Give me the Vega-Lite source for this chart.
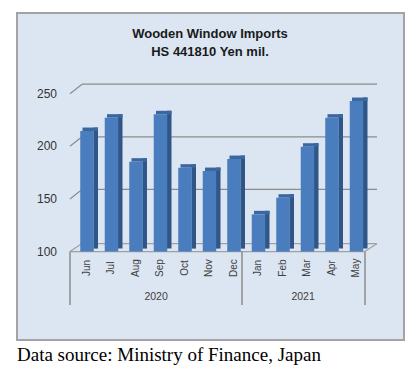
{
  "$schema": "https://vega.github.io/schema/vega-lite/v6.json",
  "width": 387,
  "height": 327,
  "autosize": {"type": "none"},
  "padding": {"left": 17, "top": 13, "right": 16, "bottom": 33},
  "background": "white",
  "config": {
    "view": {"fill": "#dce6f2", "stroke": "#a3a3a3", "strokeWidth": 2},
    "axis": {"disable": true}
  },
  "data": {
    "values": [
      {"m": "Jun", "i": 0, "v": 214.5},
      {"m": "Jul", "i": 1, "v": 227.2},
      {"m": "Aug", "i": 2, "v": 185.4},
      {"m": "Sep", "i": 3, "v": 230.4},
      {"m": "Oct", "i": 4, "v": 179.7},
      {"m": "Nov", "i": 5, "v": 176.5},
      {"m": "Dec", "i": 6, "v": 187.9},
      {"m": "Jan", "i": 7, "v": 135.4},
      {"m": "Feb", "i": 8, "v": 151.2},
      {"m": "Mar", "i": 9, "v": 199.6},
      {"m": "Apr", "i": 10, "v": 227.2},
      {"m": "May", "i": 11, "v": 243}
    ]
  },
  "layer": [
    {
      "data": {"values": [{"g": 150}, {"g": 200}, {"g": 250}]},
      "mark": {"type": "rule", "color": "#8c8c8c", "strokeWidth": 1.2, "yOffset": -9.5},
      "encoding": {
        "x": {"datum": -0.204, "type": "quantitative", "scale": {"domain": [-2.857, 12.939], "nice": false, "zero": false}, "axis": null},
        "x2": {"datum": 11.837},
        "y": {"field": "g", "type": "quantitative", "scale": {"domain": [16.05, 326.6], "nice": false, "zero": false}, "axis": null}
      }
    },
    {
      "data": {"values": [{"g": 150}, {"g": 200}, {"g": 250}]},
      "mark": {"type": "rule", "color": "#8c8c8c", "strokeWidth": 1.2, "y2Offset": -9.5},
      "encoding": {
        "x": {"datum": -0.694, "type": "quantitative"},
        "x2": {"datum": -0.204},
        "y": {"field": "g", "type": "quantitative"},
        "y2": {"field": "g"}
      }
    },
    {
      "data": {"values": [{}]},
      "mark": {"type": "rule", "color": "#a0a0a0", "strokeWidth": 1.2, "yOffset": -8},
      "encoding": {
        "x": {"datum": -0.204, "type": "quantitative"},
        "x2": {"datum": 11.837},
        "y": {"datum": 100, "type": "quantitative"}
      }
    },
    {
      "data": {"values": [{}]},
      "mark": {"type": "rule", "color": "#a0a0a0", "strokeWidth": 1.2},
      "encoding": {
        "x": {"datum": -0.694, "type": "quantitative"},
        "x2": {"datum": 11.347},
        "y": {"datum": 100, "type": "quantitative"}
      }
    },
    {
      "data": {"values": [{}]},
      "mark": {"type": "rule", "color": "#a0a0a0", "strokeWidth": 1.2, "y2Offset": -8},
      "encoding": {
        "x": {"datum": 11.347, "type": "quantitative"},
        "x2": {"datum": 11.837},
        "y": {"datum": 100, "type": "quantitative"},
        "y2": {"datum": 100}
      }
    },
    {
      "data": {"values": [{}]},
      "mark": {"type": "rule", "color": "#a0a0a0", "strokeWidth": 1.2, "y2Offset": -8},
      "encoding": {
        "x": {"datum": -0.694, "type": "quantitative"},
        "x2": {"datum": -0.204},
        "y": {"datum": 100, "type": "quantitative"},
        "y2": {"datum": 100}
      }
    },
    {
      "mark": {"type": "rect", "color": "#2f5686", "xOffset": 6.5, "x2Offset": 11, "yOffset": -3.5, "y2Offset": -3},
      "encoding": {
        "x": {"field": "i", "type": "quantitative"},
        "x2": {"field": "i"},
        "y": {"field": "v", "type": "quantitative"},
        "y2": {"datum": 100}
      }
    },
    {
      "mark": {"type": "rect", "color": "#3a67a0", "xOffset": -4.5, "x2Offset": 11, "yOffset": -3.5, "y2Offset": 0},
      "encoding": {
        "x": {"field": "i", "type": "quantitative"},
        "x2": {"field": "i"},
        "y": {"field": "v", "type": "quantitative"},
        "y2": {"field": "v"}
      }
    },
    {
      "mark": {"type": "rect", "color": "#4a7dbd", "xOffset": -6.75, "x2Offset": 6.75},
      "encoding": {
        "x": {"field": "i", "type": "quantitative"},
        "x2": {"field": "i"},
        "y": {"field": "v", "type": "quantitative"},
        "y2": {"datum": 100}
      }
    },
    {
      "data": {"values": [{}]},
      "mark": {"type": "rule", "color": "#8c8c8c", "strokeWidth": 1.5},
      "encoding": {
        "x": {"datum": -0.694, "type": "quantitative"},
        "y": {"datum": 100, "type": "quantitative"},
        "y2": {"datum": 49.3}
      }
    },
    {
      "data": {"values": [{}]},
      "mark": {"type": "rule", "color": "#8c8c8c", "strokeWidth": 1.5},
      "encoding": {
        "x": {"datum": 6.327, "type": "quantitative"},
        "y": {"datum": 100, "type": "quantitative"},
        "y2": {"datum": 49.3}
      }
    },
    {
      "data": {"values": [{}]},
      "mark": {"type": "rule", "color": "#8c8c8c", "strokeWidth": 1.5},
      "encoding": {
        "x": {"datum": 11.347, "type": "quantitative"},
        "y": {"datum": 100, "type": "quantitative"},
        "y2": {"datum": 49.3}
      }
    },
    {
      "mark": {"type": "text", "angle": 270, "align": "center", "baseline": "middle", "font": "Liberation Sans", "fontSize": 10, "color": "#404040"},
      "encoding": {
        "x": {"field": "i", "type": "quantitative"},
        "y": {"datum": 84.4, "type": "quantitative"},
        "text": {"field": "m"}
      }
    },
    {
      "data": {"values": [{}]},
      "mark": {"type": "text", "align": "center", "baseline": "middle", "font": "Liberation Sans", "fontSize": 10.5, "color": "#404040"},
      "encoding": {
        "x": {"datum": 2.82, "type": "quantitative"},
        "y": {"datum": 56.9, "type": "quantitative"},
        "text": {"value": "2020"}
      }
    },
    {
      "data": {"values": [{}]},
      "mark": {"type": "text", "align": "center", "baseline": "middle", "font": "Liberation Sans", "fontSize": 10.5, "color": "#404040"},
      "encoding": {
        "x": {"datum": 8.82, "type": "quantitative"},
        "y": {"datum": 56.9, "type": "quantitative"},
        "text": {"value": "2021"}
      }
    },
    {
      "data": {"values": [{"g": 100}, {"g": 150}, {"g": 200}, {"g": 250}]},
      "mark": {"type": "text", "align": "right", "baseline": "middle", "font": "Liberation Sans", "fontSize": 12, "color": "#333333"},
      "encoding": {
        "x": {"datum": -1.224, "type": "quantitative"},
        "y": {"field": "g", "type": "quantitative"},
        "text": {"field": "g", "type": "quantitative"}
      }
    },
    {
      "data": {"values": [{}]},
      "mark": {"type": "text", "align": "center", "baseline": "middle", "font": "Liberation Sans", "fontWeight": "bold", "fontSize": 13, "lineHeight": 18, "color": "#1a1a1a"},
      "encoding": {
        "x": {"datum": 5.02, "type": "quantitative"},
        "y": {"datum": 306.6, "type": "quantitative"},
        "text": {"value": ["Wooden Window Imports", "HS 441810 Yen mil."]}
      }
    },
    {
      "data": {"values": [{}]},
      "mark": {"type": "text", "align": "left", "baseline": "middle", "font": "Liberation Serif", "fontSize": 19, "color": "#000000"},
      "encoding": {
        "x": {"datum": -2.857, "type": "quantitative"},
        "y": {"datum": 1.8, "type": "quantitative"},
        "text": {"value": "Data source: Ministry of Finance, Japan"}
      }
    }
  ]
}
